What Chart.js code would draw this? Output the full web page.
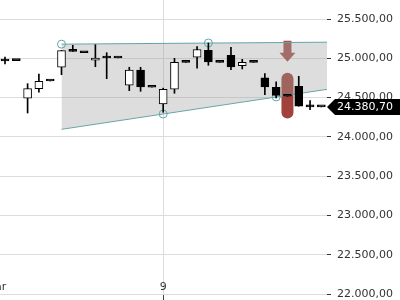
<!DOCTYPE html>
<html>
<head>
<meta charset="utf-8">
<script src="https://cdn.jsdelivr.net/npm/chart.js@4"></script>
<style>
    html, body { margin: 0; padding: 0; background: #fff; }
    #wrap { width: 400px; height: 300px; }
</style>
</head>
<body>
<div id="wrap"><canvas id="chart"></canvas></div>
<script>
// Candles: [open, high, low, close], one per bar index
const candles = [
    [24966, 25017, 24928, 24966],
    [24970, 24970, 24970, 24970],
    [24491, 24677, 24304, 24613],
    [24613, 24800, 24568, 24708],
    [24711, 24711, 24711, 24711],
    [24886, 25100, 24791, 25097],
    [25089, 25165, 25089, 25089],
    [25071, 25071, 25071, 25071],
    [24975, 25173, 24893, 25004],
    [25004, 25071, 24741, 25004],
    [25004, 25004, 25004, 25004],
    [24657, 24886, 24588, 24851],
    [24851, 24886, 24580, 24635],
    [24631, 24631, 24631, 24631],
    [24419, 24620, 24313, 24606],
    [24606, 25000, 24555, 24949],
    [24949, 24949, 24949, 24949],
    [25013, 25148, 24873, 25112],
    [25102, 25195, 24911, 24953],
    [24949, 24949, 24949, 24949],
    [25038, 25140, 24855, 24889],
    [24906, 24987, 24864, 24949],
    [24949, 24949, 24949, 24949],
    [24750, 24804, 24537, 24635],
    [24631, 24699, 24495, 24529],
    [24517, 24517, 24517, 24517],
    [24644, 24771, 24390, 24390],
    [24381, 24461, 24346, 24381],
    [24380.7, 24380.7, 24380.7, 24380.7]
];
const lastPrice = 24380.70;

// Wedge pattern (index, value)
const wedgeUpper = [[5, 25180], [28.5, 25205]];
const wedgeLower = [[5, 24096], [28.5, 24605]];
const wedgeTouches = [[5, 25180], [18, 25195], [14, 24291], [24, 24508]];

// Sell signal marker
const signalIndex = 25;
const signalArrow = [24957, 25222];   // tip, top
const signalRange = [24235, 24817];   // low, high

// Axes
const yTicks = [22000, 22500, 23000, 23500, 24000, 24500, 25000, 25500];
const xLabels = [[-0.8, 'Mar'], [14, '9']];
const xRange = [-0.4425, 28.5];
const yRange = [22000, 25742];

const teal = '#5fa5aa';

function fmt(v) {
    const [i, d] = v.toFixed(2).split('.');
    return i.replace(/\B(?=(\d{3})+(?!\d))/g, '.') + ',' + d;
}

const bodies = candles.map((c, i) => ({ x: i, y: [c[0], c[3]] }));
const wicks = candles.map((c, i) => ({ x: i, y: [c[2], c[1]] }));
const bodyFill = candles.map(c => c[3] > c[0] ? '#ffffff' : '#000000');

const overlay = {
    id: 'overlay',
    beforeDatasetsDraw(chart) {
        const { ctx, scales: { x, y } } = chart;
        const cx = x.getPixelForValue(signalIndex);

        ctx.save();
        // range bar
        const rTop = y.getPixelForValue(signalRange[1]);
        const rBot = y.getPixelForValue(signalRange[0]);
        ctx.fillStyle = 'rgba(150,45,38,0.9)';
        ctx.beginPath();
        ctx.roundRect(cx - 6, rTop, 12, rBot - rTop, 6);
        ctx.fill();

        // down arrow
        const aTop = y.getPixelForValue(signalArrow[1]);
        const aTip = y.getPixelForValue(signalArrow[0]);
        const neck = aTip - 9;
        ctx.fillStyle = 'rgba(150,50,42,0.85)';
        ctx.beginPath();
        ctx.moveTo(cx - 4, aTop);
        ctx.lineTo(cx + 4, aTop);
        ctx.lineTo(cx + 4, neck);
        ctx.lineTo(cx + 8, neck);
        ctx.lineTo(cx, aTip);
        ctx.lineTo(cx - 8, neck);
        ctx.lineTo(cx - 4, neck);
        ctx.closePath();
        ctx.fill();
        ctx.restore();
    },
    afterDraw(chart) {
        const { ctx, chartArea, scales: { x, y } } = chart;
        ctx.save();
        ctx.font = '11px "DejaVu Sans"';
        ctx.fillStyle = '#333';
        ctx.textAlign = 'center';
        ctx.textBaseline = 'middle';
        xLabels.forEach(([v, t]) => ctx.fillText(t, x.getPixelForValue(v), chartArea.bottom - 7));

        // last price tag
        const py = y.getPixelForValue(lastPrice);
        const left = chartArea.right;
        ctx.fillStyle = '#000';
        ctx.beginPath();
        ctx.moveTo(left, py);
        ctx.lineTo(left + 8, py - 8);
        ctx.lineTo(400, py - 8);
        ctx.lineTo(400, py + 8);
        ctx.lineTo(left + 8, py + 8);
        ctx.closePath();
        ctx.fill();
        ctx.fillStyle = '#fff';
        ctx.textAlign = 'left';
        ctx.fillText(fmt(lastPrice), left + 10, py + 0.5);
        ctx.restore();
    }
};

new Chart(document.getElementById('chart'), {
    type: 'bar',
    data: {
        datasets: [
            {
                data: bodies,
                backgroundColor: bodyFill,
                borderColor: '#000',
                borderWidth: 1,
                borderSkipped: false,
                barThickness: 8,
                minBarLength: 2,
                grouped: false,
                order: 0
            },
            {
                data: wicks,
                backgroundColor: '#000',
                borderWidth: 0,
                barThickness: 1,
                grouped: false,
                order: 1
            },
            {
                type: 'line',
                data: wedgeTouches.map(p => ({ x: p[0], y: p[1] })),
                showLine: false,
                pointRadius: 4,
                pointBorderWidth: 1,
                pointBorderColor: teal,
                pointBackgroundColor: 'rgba(0,0,0,0)',
                order: 2
            },
            {
                type: 'line',
                data: wedgeUpper.map(p => ({ x: p[0], y: p[1] })),
                borderColor: teal,
                borderWidth: 1,
                pointRadius: 0,
                fill: '+1',
                backgroundColor: 'rgba(160,160,160,0.36)',
                order: 3
            },
            {
                type: 'line',
                data: wedgeLower.map(p => ({ x: p[0], y: p[1] })),
                borderColor: teal,
                borderWidth: 1,
                pointRadius: 0,
                fill: false,
                order: 4
            }
        ]
    },
    options: {
        responsive: true,
        maintainAspectRatio: false,
        animation: false,
        layout: { padding: 0, autoPadding: false },
        plugins: { legend: { display: false }, tooltip: { enabled: false } },
        scales: {
            x: {
                type: 'linear',
                min: xRange[0],
                max: xRange[1],
                offset: false,
                afterBuildTicks: s => { s.ticks = [{ value: 14 }]; },
                ticks: { display: false },
                grid: { offset: false, color: '#dcdcdc', tickColor: '#444', tickLength: 6 },
                border: { display: false }
            },
            y: {
                position: 'right',
                min: yRange[0],
                max: yRange[1],
                afterBuildTicks: s => { s.ticks = yTicks.map(v => ({ value: v })); },
                afterFit: s => { s.width = 73; s.paddingTop = 0; s.paddingBottom = 0; },
                ticks: {
                    padding: 6,
                    color: '#333',
                    font: { family: 'DejaVu Sans', size: 11 },
                    callback: v => fmt(v)
                },
                grid: { color: '#dcdcdc', tickColor: '#333', tickLength: 4 },
                border: { display: false }
            }
        }
    },
    plugins: [overlay]
});
</script>
</body>
</html>
